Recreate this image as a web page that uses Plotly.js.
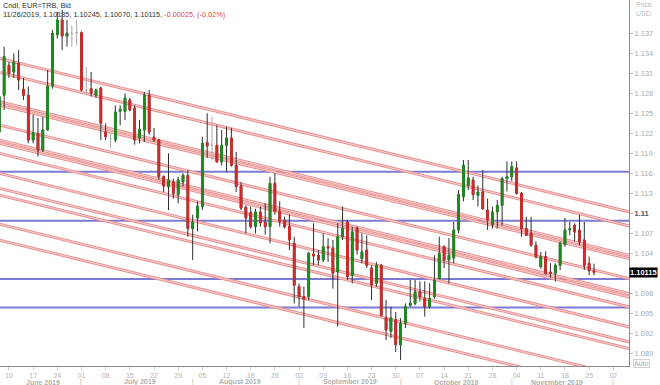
<!DOCTYPE html>
<html>
<head>
<meta charset="utf-8">
<script src="https://cdn.plot.ly/plotly-3.0.1.min.js"></script>
<style>
html, body { margin:0; padding:0; background:#ffffff; }
#chart { width:660px; height:385px; }
</style>
</head>
<body>
<div id="chart"></div>
<script>
// ---- Daily candles, EUR=TRB (Bid) ----
const dates = [
 '2019-06-06','2019-06-07','2019-06-10','2019-06-11','2019-06-12','2019-06-13','2019-06-14','2019-06-17','2019-06-18','2019-06-19','2019-06-20','2019-06-21','2019-06-24','2019-06-25','2019-06-26','2019-06-27','2019-06-28',
 '2019-07-01','2019-07-02','2019-07-03','2019-07-04','2019-07-05','2019-07-08','2019-07-09','2019-07-10','2019-07-11','2019-07-12','2019-07-15','2019-07-16','2019-07-17','2019-07-18','2019-07-19','2019-07-22','2019-07-23','2019-07-24','2019-07-25','2019-07-26','2019-07-29','2019-07-30','2019-07-31',
 '2019-08-01','2019-08-02','2019-08-05','2019-08-06','2019-08-07','2019-08-08','2019-08-09','2019-08-12','2019-08-13','2019-08-14','2019-08-15','2019-08-16','2019-08-19','2019-08-20','2019-08-21','2019-08-22','2019-08-23','2019-08-26','2019-08-27','2019-08-28','2019-08-29','2019-08-30',
 '2019-09-02','2019-09-03','2019-09-04','2019-09-05','2019-09-06','2019-09-09','2019-09-10','2019-09-11','2019-09-12','2019-09-13','2019-09-16','2019-09-17','2019-09-18','2019-09-19','2019-09-20','2019-09-23','2019-09-24','2019-09-25','2019-09-26','2019-09-27','2019-09-30',
 '2019-10-01','2019-10-02','2019-10-03','2019-10-04','2019-10-07','2019-10-08','2019-10-09','2019-10-10','2019-10-11','2019-10-14','2019-10-15','2019-10-16','2019-10-17','2019-10-18','2019-10-21','2019-10-22','2019-10-23','2019-10-24','2019-10-25','2019-10-28','2019-10-29','2019-10-30','2019-10-31',
 '2019-11-01','2019-11-04','2019-11-05','2019-11-06','2019-11-07','2019-11-08','2019-11-11','2019-11-12','2019-11-13','2019-11-14','2019-11-15','2019-11-18','2019-11-19','2019-11-20','2019-11-21','2019-11-22','2019-11-25','2019-11-26'
];
const opens = [
 1.1222,1.1277,1.1322,1.1312,1.1325,1.1286,1.1277,1.1210,1.1220,1.1195,1.1225,1.1291,1.1368,1.1390,1.1366,1.1370,1.1371,
 1.1371,1.1285,1.1287,1.1277,1.1288,1.1222,1.1212,1.1210,1.1253,1.1253,1.1270,1.1258,1.1213,1.1225,1.1277,1.1214,1.1210,1.1155,1.1140,1.1147,1.1128,1.1147,1.1157,
 1.1077,1.1093,1.1110,1.1206,1.1202,1.1202,1.1177,1.1202,1.1213,1.1172,1.1141,1.1109,1.1101,1.1080,1.1102,1.1087,1.1080,1.1145,1.1103,1.1090,1.1080,1.1055,
 1.0990,1.0975,1.0975,1.1039,1.1037,1.1030,1.1050,1.1048,1.1012,1.1065,1.1087,1.1007,1.1078,1.1032,1.1045,1.1018,1.0995,1.1022,1.0943,1.0923,1.0940,
 1.0903,1.0935,1.0962,1.0965,1.0982,1.0972,1.0960,1.0975,1.1002,1.1050,1.1030,1.1033,1.1075,1.1125,1.1142,1.1150,1.1127,1.1132,1.1105,1.1083,1.1102,1.1112,1.1152,
 1.1155,1.1168,1.1130,1.1077,1.1070,1.1052,1.1020,1.1035,1.1012,1.1010,1.1022,1.1053,1.1075,1.1082,1.1075,1.1060,1.1025,1.10135
];
const highs = [
 1.1280,1.1350,1.1327,1.1340,1.1345,1.1303,1.1290,1.1248,1.1243,1.1245,1.1315,1.1375,1.1402,1.1405,1.1390,1.1382,1.1390,
 1.1373,1.1320,1.1312,1.1287,1.1290,1.1235,1.1220,1.1262,1.1262,1.1280,1.1273,1.1262,1.1240,1.1282,1.1285,1.1228,1.1212,1.1157,1.1190,1.1152,1.1155,1.1160,1.1165,
 1.1098,1.1118,1.1215,1.1250,1.1245,1.1232,1.1225,1.1230,1.1228,1.1192,1.1147,1.1112,1.1110,1.1107,1.1110,1.1115,1.1155,1.1160,1.1118,1.1095,1.1098,1.1065,
 1.0995,1.0990,1.1042,1.1085,1.1045,1.1070,1.1063,1.1060,1.1085,1.1110,1.1090,1.1080,1.1080,1.1070,1.1067,1.1022,1.1027,1.1024,1.0970,1.0960,1.0952,
 1.0943,1.0965,1.1000,1.1000,1.0998,1.0998,1.0995,1.1037,1.1065,1.1052,1.1063,1.1087,1.1135,1.1180,1.1180,1.1155,1.1142,1.1165,1.1122,1.1110,1.1120,1.1155,1.1178,
 1.1178,1.1178,1.1132,1.1095,1.1095,1.1058,1.1042,1.1043,1.1025,1.1025,1.1058,1.1093,1.1087,1.1085,1.1098,1.1087,1.1035,1.10245
];
const lows = [
 1.1215,1.1255,1.1303,1.1303,1.1285,1.1270,1.1205,1.1205,1.1185,1.1192,1.1225,1.1287,1.1362,1.1345,1.1350,1.1350,1.1352,
 1.1283,1.1277,1.1275,1.1273,1.1210,1.1210,1.1198,1.1207,1.1232,1.1240,1.1253,1.1203,1.1205,1.1207,1.1218,1.1207,1.1150,1.1132,1.1105,1.1122,1.1115,1.1140,1.1065,
 1.1030,1.1073,1.1105,1.1183,1.1180,1.1177,1.1172,1.1162,1.1170,1.1132,1.1105,1.1070,1.1077,1.1070,1.1080,1.1068,1.1055,1.1098,1.1080,1.1077,1.1045,1.0965,
 1.0960,1.0928,1.0970,1.1022,1.1022,1.1027,1.1027,1.0987,1.0930,1.1060,1.1000,1.0995,1.1038,1.1025,1.1018,1.0970,1.0990,1.0945,1.0910,1.0913,1.0892,
 1.0880,1.0928,1.0960,1.0962,1.0968,1.0945,1.0957,1.0972,1.1002,1.1018,1.0995,1.1025,1.1070,1.1118,1.1135,1.1120,1.1110,1.1105,1.1075,1.1077,1.1077,1.1082,1.1133,
 1.1148,1.1128,1.1065,1.1067,1.1050,1.1032,1.1017,1.1008,1.1003,1.0998,1.1015,1.1050,1.1067,1.1058,1.1052,1.1015,1.1007,1.10070
];
const closes = [
 1.1275,1.1335,1.1310,1.1327,1.1300,1.1277,1.1210,1.1221,1.1195,1.1225,1.1291,1.1370,1.1390,1.1366,1.1370,1.1370,1.1371,
 1.1285,1.1285,1.1280,1.1285,1.1235,1.1215,1.1212,1.1252,1.1256,1.1273,1.1255,1.1210,1.1226,1.1277,1.1222,1.1210,1.1155,1.1141,1.1150,1.1130,1.1150,1.1157,1.1077,
 1.1087,1.1111,1.1205,1.1201,1.1202,1.1177,1.1202,1.1213,1.1172,1.1140,1.1108,1.1093,1.1080,1.1102,1.1086,1.1080,1.1145,1.1103,1.1088,1.1080,1.1060,1.0992,
 1.0975,1.0971,1.1040,1.1036,1.1030,1.1050,1.1048,1.1010,1.1065,1.1078,1.1005,1.1072,1.1045,1.1042,1.1022,1.0993,1.1022,1.0947,1.0925,1.0943,1.0903,
 1.0935,1.0960,1.0965,1.0982,1.0975,1.0960,1.0972,1.1000,1.1040,1.1030,1.1037,1.1075,1.1128,1.1172,1.1153,1.1128,1.1132,1.1107,1.1090,1.1102,1.1112,1.1152,1.1155,
 1.1170,1.1130,1.1077,1.1067,1.1052,1.1035,1.1035,1.1010,1.1010,1.1022,1.1055,1.1075,1.1077,1.1072,1.1057,1.1022,1.1014,1.10115
];

// ---- Drawn parallel trend lines (price at start date and end date) ----
const trendStartDate = '2019-06-06 12:00';
const trendEndDate   = '2019-12-06 12:00';
const trendStartPrice = [1.13326,1.13116,1.12675,1.12625,1.12325,1.12100,1.12050,1.11900,1.11600,1.11376,1.11275,1.10840,1.10600];
const trendEndPrice   = [1.11009,1.10799,1.10358,1.10308,1.10008,1.09783,1.09733,1.09583,1.09283,1.09059,1.08958,1.08523,1.08283];

// ---- Horizontal levels ----
const levels = [1.11625, 1.10888, 1.10015, 1.09586];

// ---- Axis ticks ----
const xTickDates = ['2019-06-10','2019-06-17','2019-06-24','2019-07-01','2019-07-08','2019-07-15','2019-07-22','2019-07-29','2019-08-05','2019-08-12','2019-08-19','2019-08-26','2019-09-02','2019-09-09','2019-09-16','2019-09-23','2019-09-30','2019-10-07','2019-10-14','2019-10-21','2019-10-28','2019-11-04','2019-11-11','2019-11-18','2019-11-25','2019-12-02'];
const xTickLabels = ['10','17','24','01','08','15','22','29','05','12','19','26','02','09','16','23','30','07','14','21','28','04','11','18','25','02'];
const monthNames = ['June 2019','July 2019','August 2019','September 2019','October 2019','November 2019'];
const monthLabelAt = ['2019-06-19 12:00','2019-07-17 12:00','2019-08-15 06:00','2019-09-17 00:00','2019-10-16 23:00','2019-11-14 19:00'];
const monthStarts = ['2019-07-01','2019-08-01','2019-09-02','2019-10-01','2019-11-01','2019-12-02'];
const yTickVals = [1.089,1.092,1.095,1.098,1.104,1.107,1.110,1.113,1.116,1.119,1.122,1.125,1.128,1.131,1.134,1.137];
const yTickText = ['1.089','1.092','1.095','1.098','1.104','1.107','<span style="color:#555"><b>1.11</b></span>','1.113','1.116','1.119','1.122','1.125','1.128','1.131','1.134','1.137'];

const xRange = ['2019-06-06 15:29','2019-12-05 17:53'];
const yRange = [1.0871, 1.1420];

const FONT = 'Liberation Sans, Arial, sans-serif';
const GREEN = '#1f8c1f', RED = '#d42a2a', WICK = '#2e2e2e', DOJI = '#a8a8a8';
const noon = d => d + ' 12:00';

// split candles
const isDoji = opens.map((o,i) => Math.abs(closes[i]-o) < 0.00005);
const idxN = [], idxD = [];
isDoji.forEach((d,i) => (d ? idxD : idxN).push(i));
const pick = (arr, idx) => idx.map(i => arr[i]);

const xN = pick(dates, idxN).map(noon);
const wickTrace = {
  type:'candlestick', x:xN,
  open:pick(opens,idxN), high:pick(highs,idxN), low:pick(lows,idxN), close:pick(closes,idxN),
  increasing:{line:{color:WICK,width:1}, fillcolor:WICK},
  decreasing:{line:{color:WICK,width:1}, fillcolor:WICK},
  whiskerwidth:0, hoverinfo:'skip', showlegend:false
};
const bodyTrace = {
  type:'candlestick', x:xN,
  open:pick(opens,idxN), close:pick(closes,idxN),
  high:idxN.map(i => Math.max(opens[i],closes[i])),
  low:idxN.map(i => Math.min(opens[i],closes[i])),
  increasing:{line:{color:GREEN,width:1}, fillcolor:GREEN},
  decreasing:{line:{color:RED,width:1}, fillcolor:RED},
  whiskerwidth:0, hoverinfo:'skip', showlegend:false
};
const dojiTrace = {
  type:'candlestick', x:pick(dates,idxD).map(noon),
  open:pick(opens,idxD), high:pick(highs,idxD), low:pick(lows,idxD), close:pick(closes,idxD),
  increasing:{line:{color:DOJI,width:1}, fillcolor:DOJI},
  decreasing:{line:{color:DOJI,width:1}, fillcolor:DOJI},
  whiskerwidth:0, hoverinfo:'skip', showlegend:false
};

// shapes: trend lines and horizontal levels (below candles)
const shapes = [];
trendStartPrice.forEach((p,i) => {
  shapes.push({type:'line', layer:'below', xref:'x', yref:'y', x0:trendStartDate, x1:trendEndDate, y0:p, y1:trendEndPrice[i], line:{color:'#ec9292', width:3}});
  shapes.push({type:'line', layer:'below', xref:'x', yref:'y', x0:trendStartDate, x1:trendEndDate, y0:p, y1:trendEndPrice[i], line:{color:'#f8d6d6', width:0.9}});
});
levels.forEach(v => {
  shapes.push({type:'line', layer:'below', xref:'paper', yref:'y', x0:0, x1:1, y0:v, y1:v, line:{color:'#7b7bd6', width:2}});
});

// header text from the last candle
const n = closes.length;
const last = dates[n-1].split('-');
const chg = closes[n-1] - closes[n-2];
const pct = chg / closes[n-2] * 100;
const headerText = 'Cndl, EUR=TRB, Bid<br>' +
  `${last[1]}/${last[2]}/${last[0]}, ${opens[n-1].toFixed(5)}, ${highs[n-1].toFixed(5)}, ${lows[n-1].toFixed(5)}, ${closes[n-1].toFixed(5)}, ` +
  `<span style="color:#e04848">${chg.toFixed(5)}, (${pct.toFixed(2)}%)</span>`;

const annotations = [
  {xref:'paper', yref:'paper', x:0, y:1, xanchor:'left', yanchor:'top', xshift:1, yshift:1, align:'left', showarrow:false,
   text:headerText, font:{family:FONT, size:7.3, color:'#333'}},
  {xref:'paper', yref:'paper', x:1, y:1, xanchor:'left', yanchor:'top', xshift:5, yshift:1, align:'left', showarrow:false,
   text:'Price<br>USD', font:{family:FONT, size:7, color:'#bbbbbb'}},
  {xref:'paper', yref:'paper', x:1, y:0, xanchor:'left', yanchor:'bottom', xshift:4, yshift:-2, showarrow:false,
   text:'Auto', font:{family:FONT, size:7, color:'#aaaaaa'}, bordercolor:'#d0d0d0', borderwidth:1, borderpad:0, bgcolor:'#fafafa'},
  {xref:'paper', yref:'y', x:1, y:closes[n-1], xanchor:'left', yanchor:'middle', xshift:0, showarrow:false,
   text:'<b>' + closes[n-1].toFixed(5) + '</b>', font:{family:FONT, size:7.5, color:'#ffffff'}, bgcolor:'#000000', borderpad:0}
];
monthNames.forEach((m,i) => {
  annotations.push({xref:'x', yref:'paper', x:monthLabelAt[i], y:0, yanchor:'middle', yshift:-16, showarrow:false,
    text:'<b>' + m + '</b>', font:{family:FONT, size:7, color:'#b0b0b0'}});
});
monthStarts.forEach(d => {
  annotations.push({xref:'x', yref:'paper', x:noon(d), y:0, yanchor:'middle', yshift:-15.5, showarrow:false,
    text:'|', font:{family:FONT, size:7, color:'#b0b0b0'}});
});

const layout = {
  width:660, height:385,
  margin:{l:0, r:31, t:0, b:19, pad:0},
  paper_bgcolor:'#ffffff', plot_bgcolor:'#ffffff',
  showlegend:false, dragmode:false,
  boxmode:'overlay', boxgap:0.5,
  font:{family:FONT, size:7, color:'#aaa'},
  xaxis:{
    type:'date', range:xRange, rangebreaks:[{bounds:['sat','mon']}],
    rangeslider:{visible:false},
    showgrid:false, zeroline:false, showline:true, linecolor:'#8a8a8a', linewidth:1,
    ticks:'outside', ticklen:3, tickcolor:'#cccccc', tickwidth:1,
    tickmode:'array', tickvals:xTickDates.map(noon), ticktext:xTickLabels,
    tickfont:{family:FONT, size:7, color:'#b4b4b4'}, fixedrange:true
  },
  yaxis:{
    side:'right', range:yRange,
    showgrid:false, zeroline:false, showline:true, linecolor:'#8a8a8a', linewidth:1,
    ticks:'outside', ticklen:3, tickcolor:'#bbbbbb', tickwidth:1,
    tickmode:'array', tickvals:yTickVals, ticktext:yTickText,
    tickfont:{family:FONT, size:7.5, color:'#aaaaaa'}, fixedrange:true
  },
  shapes:shapes,
  annotations:annotations
};

Plotly.newPlot('chart', [wickTrace, bodyTrace, dojiTrace], layout, {displayModeBar:false, staticPlot:true});
</script>
</body>
</html>
